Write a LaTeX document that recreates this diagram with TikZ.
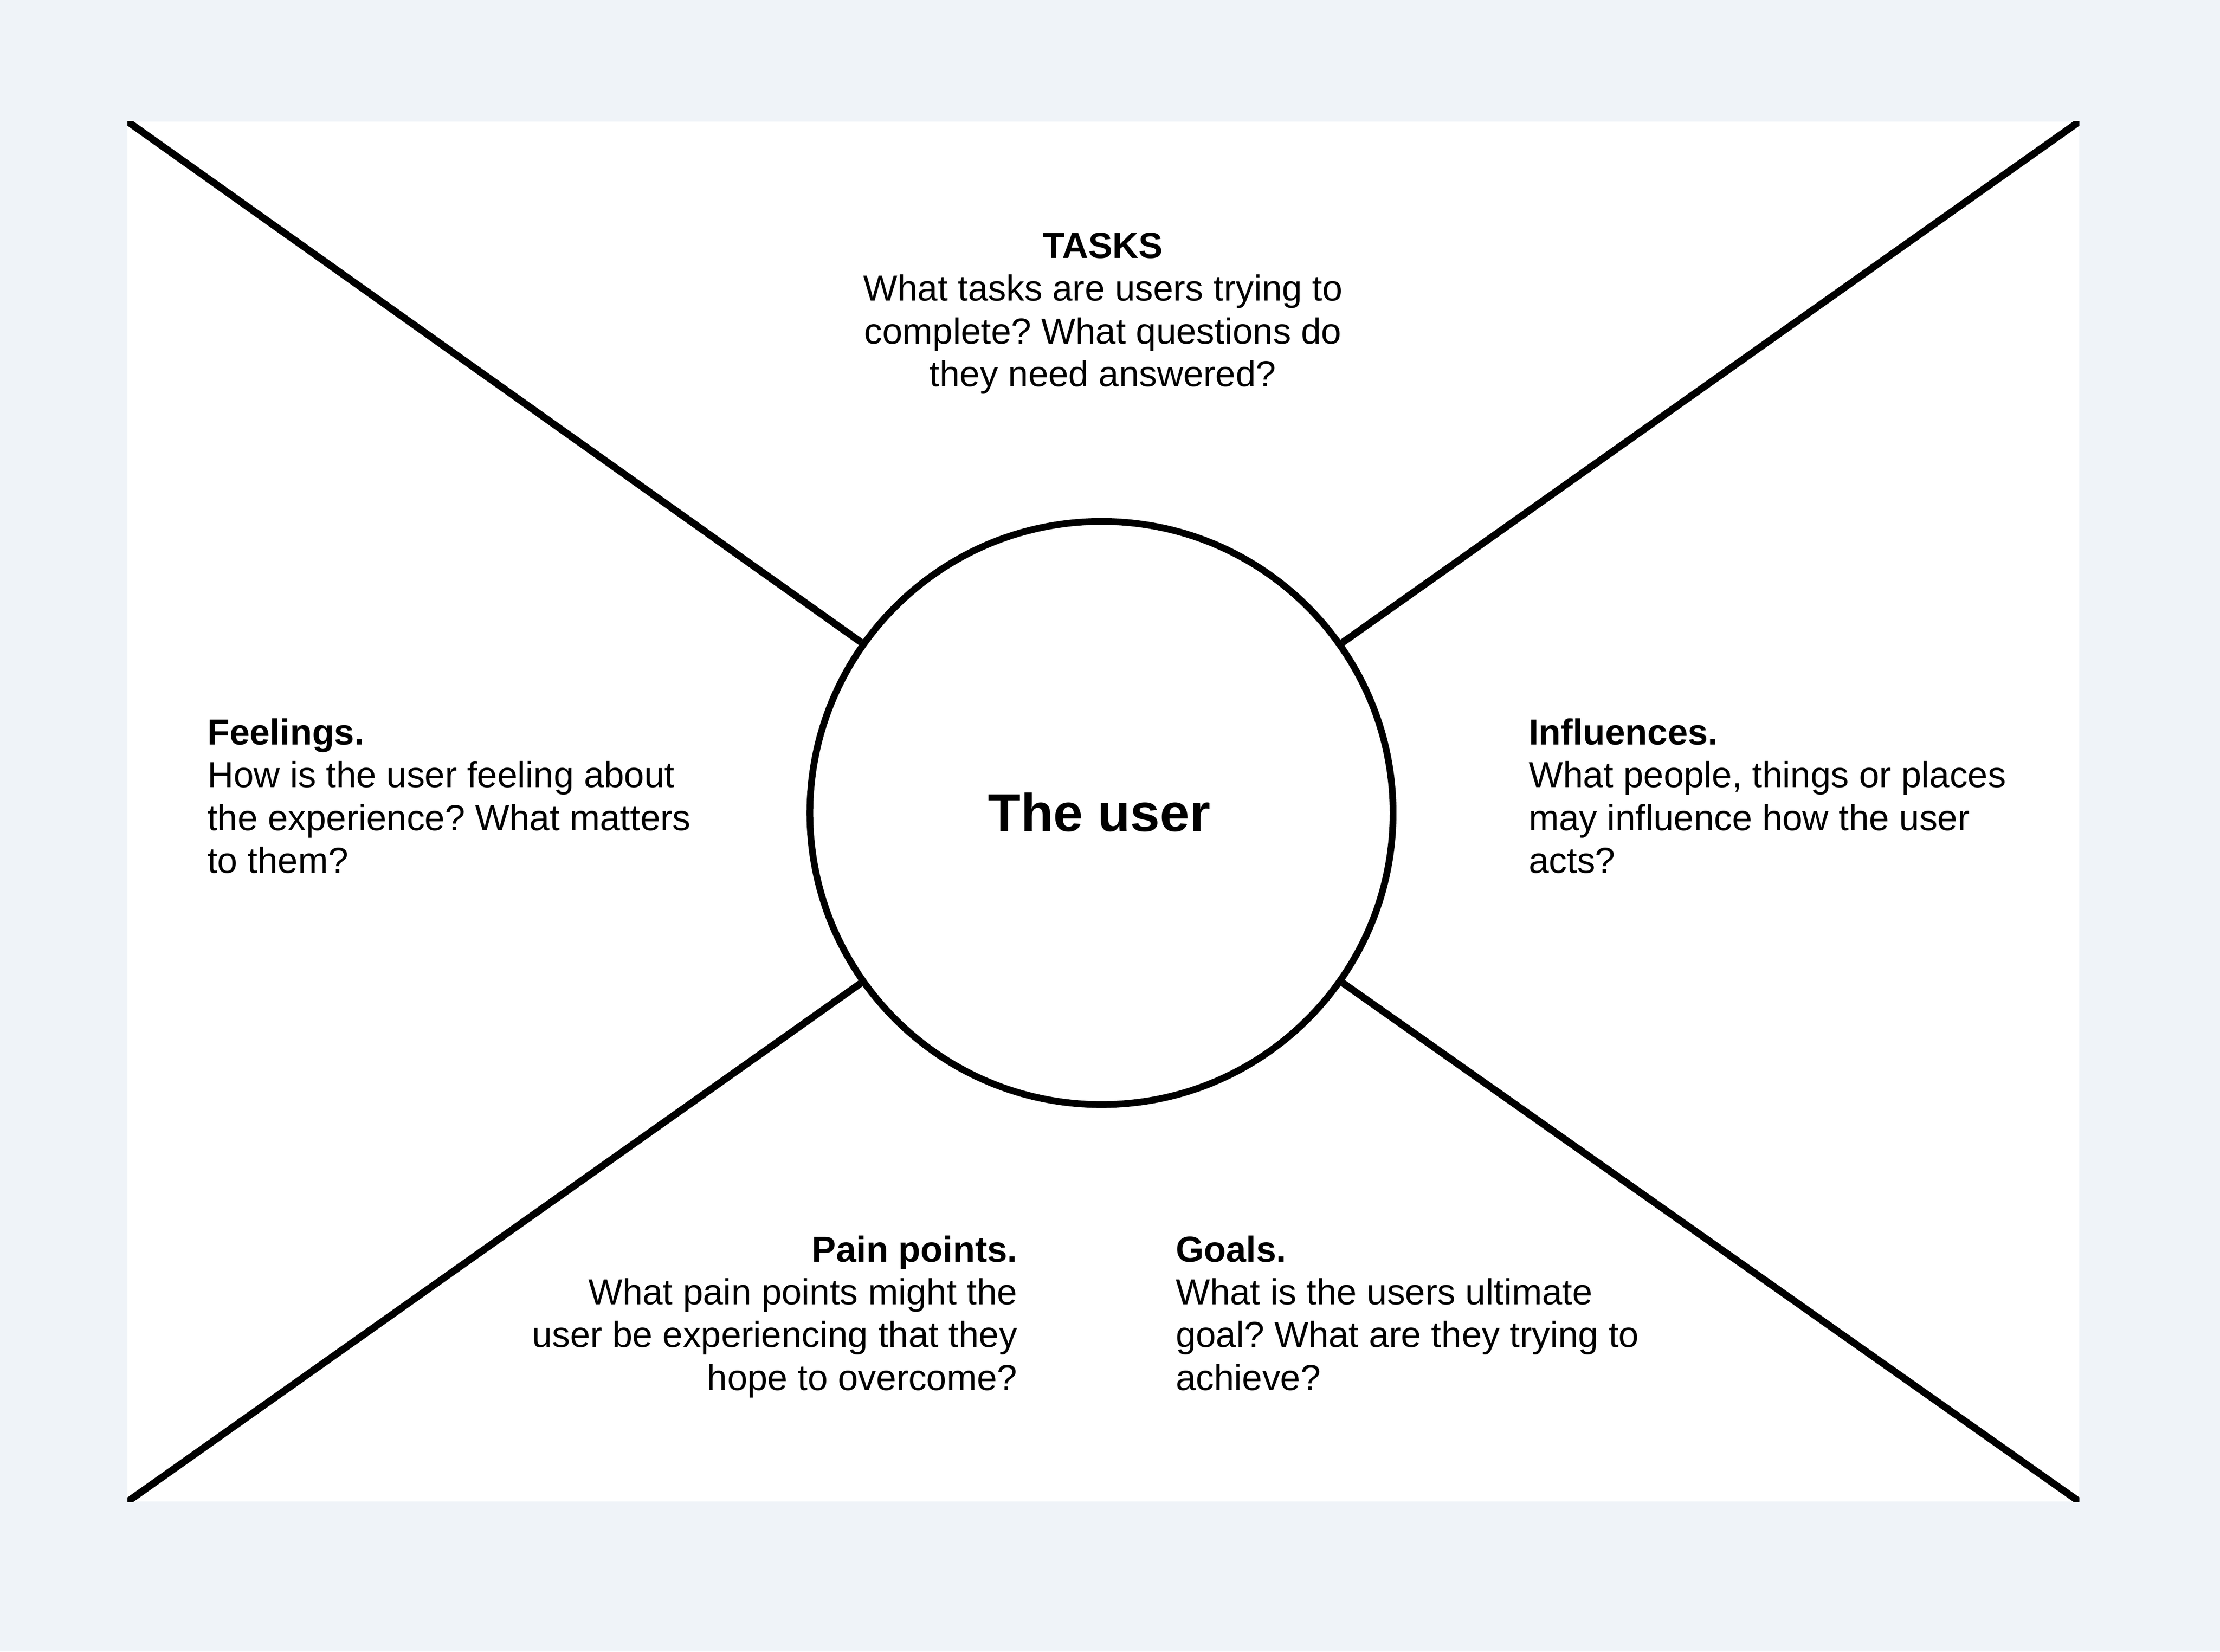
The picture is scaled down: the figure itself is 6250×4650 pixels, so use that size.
\documentclass[tikz,border=0pt]{standalone}
\usepackage{fontspec}
\setmainfont{Liberation Sans}
\frenchspacing
\definecolor{pagebg}{RGB}{239,243,248}
\begin{document}
\begin{tikzpicture}[x=0.1pt,y=-0.1pt,
  body/.style={inner sep=0pt,font=\fontsize{10.2pt}{12.05pt}\selectfont},
  spoke/.style={line width=2pt,black},
  hub/.style={circle,draw=black,line width=1.9pt,fill=white,minimum size=164.2pt,inner sep=0pt}]
\fill[pagebg] (0,0) rectangle (6250,4650);
\useasboundingbox (0,0) rectangle (6250,4650);
\fill[white] (359,342) rectangle (5854,4228);
\coordinate (tl) at (359,342);
\coordinate (tr) at (5854,342);
\coordinate (bl) at (359,4228);
\coordinate (br) at (5854,4228);
\node[hub] (user) at (3101,2289) {};
\begin{scope}
\clip (359,342) rectangle (5854,4228);
\draw[spoke] (tl) -- (user);
\draw[spoke] (tr) -- (user);
\draw[spoke] (bl) -- (user);
\draw[spoke] (br) -- (user);
\end{scope}
\node[inner sep=0pt,anchor=base,font=\fontsize{15pt}{18pt}\selectfont\bfseries] (usertxt) at (3095,2341) {The user};
% anchor=base refers to the last line's baseline
\node[body,align=center,anchor=base] (tasks) at (3105,1088) {\textbf{TASKS}\\What tasks are users trying to\\complete? What questions do\\they need answered?};
\node[body,align=left,anchor=base west] (feel) at (582,2458) {\textbf{Feelings.}\\How is the user feeling about\\the experience? What matters\\to them?};
\node[body,align=left,anchor=base west] (infl) at (4302,2458) {\textbf{Influences.}\\What people, things or places\\may influence how the user\\acts?};
\node[body,align=right,anchor=base east] (pain) at (2866,3914) {\textbf{Pain points.}\\What pain points might the\\user be experiencing that they\\hope to overcome?};
\node[body,align=left,anchor=base west] (goals) at (3308,3914) {\textbf{Goals.}\\What is the users ultimate\\goal? What are they trying to\\achieve?};
\end{tikzpicture}
\end{document}
